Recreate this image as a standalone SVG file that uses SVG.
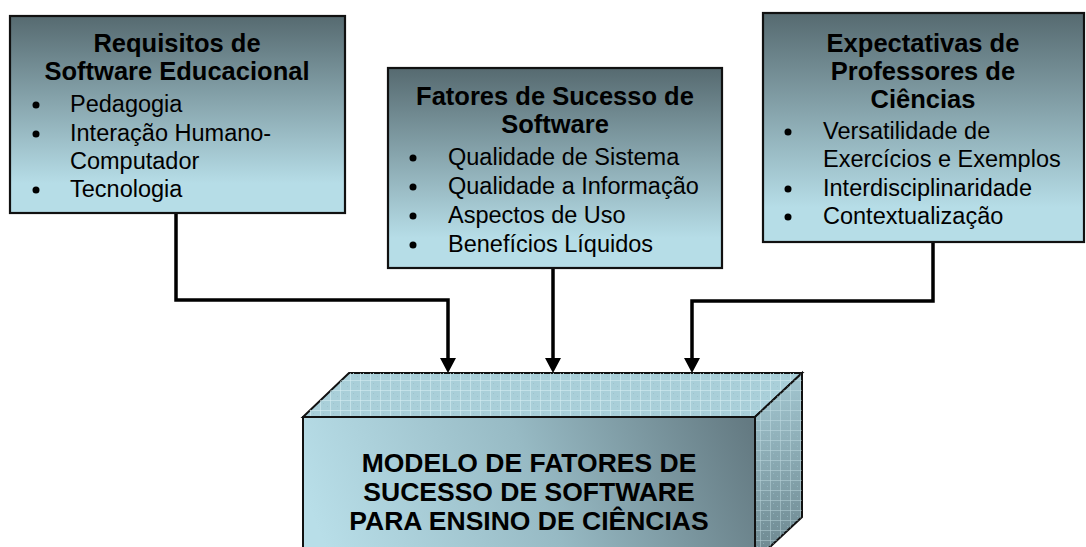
<svg xmlns="http://www.w3.org/2000/svg" width="1086" height="547" viewBox="0 0 1086 547">
<defs>
<style>
.box{stroke:#111;stroke-width:2.2;fill:url(#boxg)}
.tt{font-family:"Liberation Sans",Arial,sans-serif;font-weight:bold;font-size:25.5px;text-anchor:middle;fill:#000}
.bt{font-family:"Liberation Sans",Arial,sans-serif;font-size:23.5px;fill:#000}
.bl{fill:#000}
.big{font-family:"Liberation Sans",Arial,sans-serif;font-weight:bold;font-size:26.5px;text-anchor:middle;fill:#000}
.con{fill:none;stroke:#000;stroke-width:3.5;marker-end:url(#arr)}
.face{stroke:#111;stroke-width:2}
</style>
<linearGradient id="boxg" x1="0" y1="0" x2="0" y2="1">
<stop offset="0" stop-color="#566a70"/>
<stop offset="0.85" stop-color="#b6dde7"/>
<stop offset="1" stop-color="#b6dde7"/>
</linearGradient>
<linearGradient id="frontg" gradientUnits="userSpaceOnUse" x1="330" y1="560" x2="740" y2="400">
<stop offset="0" stop-color="#b8dee8"/>
<stop offset="0.5" stop-color="#97bac4"/>
<stop offset="1" stop-color="#647a82"/>
</linearGradient>
<linearGradient id="sideg" gradientUnits="userSpaceOnUse" x1="760" y1="380" x2="800" y2="560">
<stop offset="0" stop-color="#a3c7d1"/>
<stop offset="1" stop-color="#6a848c"/>
</linearGradient>
<pattern id="grid" patternUnits="userSpaceOnUse" width="10" height="10">
<path d="M0,0.5 H10 M0.5,0 V10" stroke="#d4ecf1" stroke-width="1" stroke-opacity="0.6" fill="none"/>
<rect x="3" y="3" width="1" height="1" fill="#9ec3cd"/>
<rect x="7" y="6" width="1" height="1" fill="#9ec3cd"/>
</pattern>
<marker id="arr" markerUnits="userSpaceOnUse" markerWidth="16" markerHeight="16" viewBox="0 0 16 16" refX="0" refY="8" orient="auto">
<path d="M0,0 L15,8 L0,16 z" fill="#000"/>
</marker>
</defs>
<rect width="1086" height="547" fill="#fff"/>

<g id="connectors">
<path class="con" d="M176,213 V300 H448 V358"/>
<path class="con" d="M553,268 V358"/>
<path class="con" d="M933,242 V301 H692 V358"/>
</g>

<g id="node-requisitos">
<rect class="box" x="10" y="16" width="335" height="197"/>
<text class="tt" x="177" y="52">Requisitos de</text>
<text class="tt" x="177" y="80">Software Educacional</text>
<circle class="bl" cx="36" cy="105" r="3.5"/>
<text class="bt" x="70" y="112">Pedagogia</text>
<circle class="bl" cx="36" cy="134" r="3.5"/>
<text class="bt" x="70" y="141">Interação Humano-</text>
<text class="bt" x="70" y="169">Computador</text>
<circle class="bl" cx="36" cy="190" r="3.5"/>
<text class="bt" x="70" y="197">Tecnologia</text>
</g>

<g id="node-fatores">
<rect class="box" x="388" y="68" width="334" height="200"/>
<text class="tt" x="555" y="105">Fatores de Sucesso de</text>
<text class="tt" x="555" y="133">Software</text>
<circle class="bl" cx="413" cy="158" r="3.5"/>
<text class="bt" x="448" y="165">Qualidade de Sistema</text>
<circle class="bl" cx="413" cy="187" r="3.5"/>
<text class="bt" x="448" y="194">Qualidade a Informação</text>
<circle class="bl" cx="413" cy="216" r="3.5"/>
<text class="bt" x="448" y="223">Aspectos de Uso</text>
<circle class="bl" cx="413" cy="245" r="3.5"/>
<text class="bt" x="448" y="252">Benefícios Líquidos</text>
</g>

<g id="node-expectativas">
<rect class="box" x="763" y="13" width="321" height="229"/>
<text class="tt" x="923" y="52">Expectativas de</text>
<text class="tt" x="923" y="80">Professores de</text>
<text class="tt" x="923" y="108">Ciências</text>
<circle class="bl" cx="788" cy="132" r="3.5"/>
<text class="bt" x="823" y="139">Versatilidade de</text>
<text class="bt" x="823" y="167">Exercícios e Exemplos</text>
<circle class="bl" cx="788" cy="189" r="3.5"/>
<text class="bt" x="823" y="196">Interdisciplinaridade</text>
<circle class="bl" cx="788" cy="217" r="3.5"/>
<text class="bt" x="823" y="224">Contextualização</text>
</g>

<g id="node-modelo">
<polygon class="face" points="303,417 349,373 802,373 755,417" fill="#a9cfd9"/>
<polygon points="303,417 349,373 802,373 755,417" fill="url(#grid)"/>
<polygon class="face" points="755,417 802,373 802,517 755,561" fill="url(#sideg)"/>
<polygon points="755,417 802,373 802,517 755,561" fill="url(#grid)" opacity="0.6"/>
<rect class="face" x="303" y="417" width="452" height="140" fill="url(#frontg)"/>
<text class="big" x="529" y="472">MODELO DE FATORES DE</text>
<text class="big" x="529" y="501">SUCESSO DE SOFTWARE</text>
<text class="big" x="529" y="530">PARA ENSINO DE CIÊNCIAS</text>
</g>
</svg>
